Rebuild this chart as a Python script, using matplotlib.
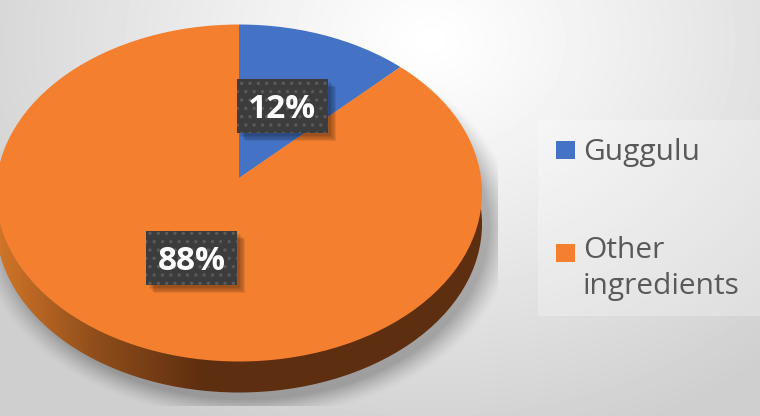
import numpy as np
import matplotlib
matplotlib.use("Agg")
from matplotlib import pyplot as plt
from matplotlib.colors import LinearSegmentedColormap
from matplotlib.patches import Ellipse, Rectangle
import matplotlib.patheffects as pe

labels = ["Guggulu", "Other\ningredients"]
values = [12, 88]
colors = ["#4472c4", "#f37f2f"]

W, H = 760, 416
plt.rcParams["font.family"] = ["Open Sans", "DejaVu Sans"]
plt.rcParams["hatch.linewidth"] = 1.2

fig = plt.figure(figsize=(W / 100, H / 100), dpi=100)

# background layer in pixel coordinates
ax = fig.add_axes([0, 0, 1, 1], zorder=0)
ax.set_xlim(0, W)
ax.set_ylim(H, 0)
ax.axis("off")

yy, xx = np.mgrid[0:H, 0:W]
dist = np.sqrt(((xx - 430) / 520.0) ** 2 + ((yy - 40) / 420.0) ** 2)
bg = 1.0 - 0.19 * np.clip(dist, 0, 1) ** 1.1
# soft shadow below the pie
d2 = np.sqrt(((xx - 246) / 252.0) ** 2 + ((yy - 226) / 180.0) ** 2)
shadow = np.clip((1.07 - d2) / 0.11, 0, 1) ** 1.3
shadow[yy > 405] = 0
shadow[xx > 497] = 0
bg = bg * (1 - 0.27 * shadow)
ax.imshow(bg, cmap="gray", vmin=0, vmax=1, extent=(0, W, H, 0), aspect="auto",
          interpolation="bilinear", zorder=0)

# side of the disc
side_cmap = LinearSegmentedColormap.from_list(
    "side", [(0, "#cf7428"), (0.2, "#8f4d1b"), (0.42, "#5e2e10"), (1, "#5e2f10")])
side_img = ax.imshow(np.linspace(0, 1, 256)[None, :], cmap=side_cmap, vmin=0, vmax=1,
                     extent=(0, 482, 400, 190), aspect="auto", zorder=1)
side_clip = Ellipse((239, 224), 486, 337, transform=ax.transData)
side_img.set_clip_path(side_clip)
ax.set_xlim(0, W)
ax.set_ylim(H, 0)

# pie top, squashed and clipped to the visible ellipse
sx, sy = 200.0, 200.0 / 1.549
cx, cy = 239, 178
ax_pie = fig.add_axes([0, 0, 1, 1], zorder=1)
wedges, _ = ax_pie.pie(values, colors=colors, startangle=90, counterclock=False, radius=2.2)
ax_pie.set_aspect("auto")
ax_pie.set_xlim(-cx / sx, (W - cx) / sx)
ax_pie.set_ylim(-(H - cy) / sy, cy / sy)
ax_pie.axis("off")
top_clip = Ellipse((239, 193), 486, 337, transform=ax.transData)
for w in wedges:
    w.set_clip_on(True)
    w.set_clip_path(top_clip)

# labels and legend
ax_top = fig.add_axes([0, 0, 1, 1], zorder=2)
ax_top.set_xlim(0, W)
ax_top.set_ylim(H, 0)
ax_top.axis("off")
ax_top.patch.set_alpha(0)

label_boxes = [(237, 79), (146, 231)]
for v, (bx, by) in zip(values, label_boxes):
    under = Rectangle((bx, by), 91, 54, facecolor="#3c3c3c", linewidth=0, zorder=3)
    under.set_path_effects([pe.SimplePatchShadow(offset=(o, -o), shadow_rgbFace="#000000", alpha=0.08)
                            for o in (6, 5, 4, 3, 2)] + [pe.Normal()])
    ax_top.add_patch(under)
    ax_top.add_patch(Rectangle((bx, by), 91, 54, facecolor="#3c3c3c", edgecolor="#5a5a5a",
                               hatch="..", linewidth=0, zorder=3.1))
    ax_top.text(bx + 45.5, by + 30, f"{v}%", color="white", fontsize=24, fontweight="bold",
                ha="center", va="center", zorder=4)

ax_top.add_patch(Rectangle((538, 120), 222, 196, facecolor="#ffffff", alpha=0.25,
                           edgecolor="none", zorder=2))
leg = ax_top.legend(wedges, labels, loc="upper left", bbox_to_anchor=(546 / W, 1 - 128 / H),
                    frameon=False, fontsize=21.5, labelcolor="#595959", handlelength=0.61,
                    handleheight=0.56, handletextpad=0.28, labelspacing=2.3, borderpad=0.35,
                    borderaxespad=0)
leg.set_zorder(5)
for t in leg.get_texts():
    t.set_linespacing(1.32)
# second swatch sits beside the first line of its label
leg.legend_handles[1].set_y(leg.legend_handles[1].get_y() + 11.5)

fig.savefig("out.png", dpi=100)
